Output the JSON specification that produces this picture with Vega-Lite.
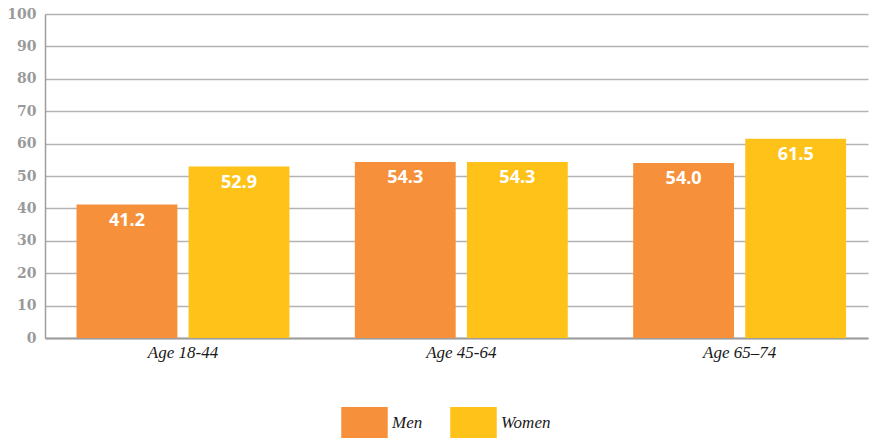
{
  "$schema": "https://vega.github.io/schema/vega-lite/v6.json",
  "width": 823,
  "height": 324,
  "autosize": {"type": "none"},
  "padding": {"left": 45, "top": 14, "right": 3, "bottom": 100},
  "background": "white",
  "config": {"view": {"stroke": null}},
  "data": {
    "values": [
      {"age": "Age 18-44", "sex": "Men", "value": 41.2},
      {"age": "Age 18-44", "sex": "Women", "value": 52.9},
      {"age": "Age 45-64", "sex": "Men", "value": 54.3},
      {"age": "Age 45-64", "sex": "Women", "value": 54.3},
      {"age": "Age 65–74", "sex": "Men", "value": 54.0},
      {"age": "Age 65–74", "sex": "Women", "value": 61.5}
    ]
  },
  "encoding": {
    "x": {
      "field": "age",
      "type": "nominal",
      "sort": null,
      "title": null,
      "scale": {"paddingInner": 0.235, "paddingOuter": 0.096, "align": 0.59},
      "axis": {
        "labelAngle": 0,
        "ticks": false,
        "domain": true,
        "domainColor": "#9e9e9e",
        "domainWidth": 2,
        "labelFont": "Liberation Serif",
        "labelFontStyle": "italic",
        "labelFontSize": 17,
        "labelColor": "#1a1a1a",
        "labelPadding": 6
      }
    },
    "xOffset": {
      "field": "sex",
      "type": "nominal",
      "sort": ["Men", "Women"],
      "scale": {"paddingInner": 0.1, "paddingOuter": 0}
    },
    "y": {
      "field": "value",
      "type": "quantitative",
      "title": null,
      "scale": {"domain": [0, 100]},
      "axis": {
        "values": [0, 10, 20, 30, 40, 50, 60, 70, 80, 90, 100],
        "ticks": false,
        "domain": true,
        "domainColor": "#9e9e9e",
        "domainWidth": 1.5,
        "grid": true,
        "gridColor": "#b3b3b3",
        "gridWidth": 1.5,
        "labelFont": "DejaVu Serif",
        "labelFontWeight": "bold",
        "labelFontSize": 14,
        "labelColor": "#9a9a9a",
        "labelPadding": 9
      }
    }
  },
  "layer": [
    {
      "mark": {"type": "bar"},
      "encoding": {
        "color": {
          "field": "sex",
          "type": "nominal",
          "sort": ["Men", "Women"],
          "scale": {"domain": ["Men", "Women"], "range": ["#F7903B", "#FEC219"]},
          "legend": {
            "title": null,
            "orient": "none",
            "direction": "horizontal",
            "legendX": 304,
            "legendY": 393,
            "padding": 0,
            "symbolType": "M-1.5,-1H1.5V1H-1.5Z",
            "symbolSize": 961,
            "symbolStrokeWidth": 0,
            "symbolOpacity": 1,
            "labelOffset": 12,
            "columnPadding": 27,
            "labelFont": "Liberation Serif",
            "labelFontStyle": "italic",
            "labelFontSize": 17,
            "labelColor": "#1a1a1a"
          }
        }
      }
    },
    {
      "mark": {
        "type": "text",
        "baseline": "top",
        "dy": 7,
        "color": "white",
        "font": "Open Sans",
        "fontWeight": "bold",
        "fontSize": 18
      },
      "encoding": {
        "text": {"field": "value", "type": "quantitative", "format": ".1f"}
      }
    }
  ]
}
